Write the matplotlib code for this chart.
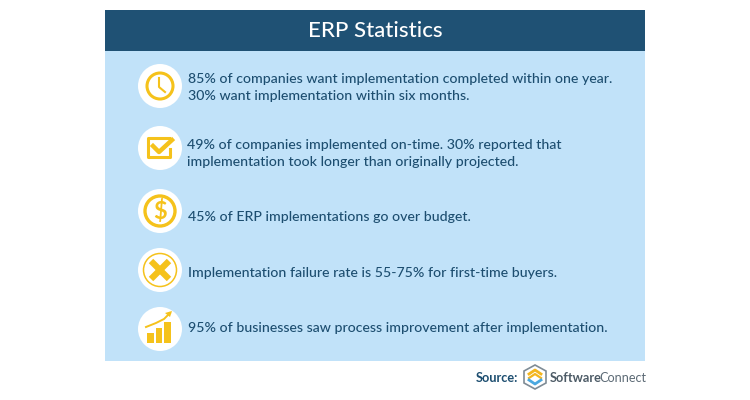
#!/usr/bin/env python3

import matplotlib
matplotlib.use('Agg')
import matplotlib.pyplot as plt
from matplotlib.patches import Circle, Rectangle, Polygon

title = 'ERP Statistics'
stats = [
    '85% of companies want implementation completed within one year.\n30% want implementation within six months.',
    '49% of companies implemented on-time. 30% reported that\nimplementation took longer than originally projected.',
    '45% of ERP implementations go over budget.',
    'Implementation failure rate is 55-75% for first-time buyers.',
    '95% of businesses saw process improvement after implementation.',
]
text_x = [188, 187, 188, 188, 188]
text_y = [87.5, 153.5, 217, 273, 327.5]
icon_y = [86, 148, 211, 270, 329]
bar_heights = [10, 15, 21]

NAVY = '#1f5174'
TEXT = '#1d4e70'
PANEL = '#c1e2f9'
GOLD = '#f5c21b'

plt.rcParams['font.family'] = ['Lato', 'DejaVu Sans']

fig = plt.figure(figsize=(7.5, 4), dpi=100)
ax = fig.add_axes([0, 0, 1, 1])
ax.set_xlim(0, 750)
ax.set_ylim(400, 0)
ax.axis('off')

# header and panel
ax.add_patch(Rectangle((105, 10), 540, 41, color=NAVY, lw=0))
ax.add_patch(Rectangle((105, 51), 540, 310, color=PANEL, lw=0))
ax.text(375, 31, title, color='white', fontsize=16, fontweight='medium', ha='center', va='center')

for s, x, y in zip(stats, text_x, text_y):
    ax.text(x, y, s, color=TEXT, fontsize=10.15, fontweight='medium', va='center', linespacing=1.46)

# white discs behind the icons
cx = 160
for y in icon_y:
    ax.add_patch(Circle((cx, y), 22, color='white', lw=0, zorder=2))

# clock
y = icon_y[0]
ax.add_patch(Circle((cx, y), 13, fill=False, ec=GOLD, lw=2.2, zorder=3))
ax.plot([cx - 1, cx - 1, cx + 5], [y - 8, y + 1, y + 6], color=GOLD, lw=1.5, zorder=3)

# checkbox
y = icon_y[1]
ax.plot([cx + 9, cx - 12, cx - 12, cx + 10, cx + 10], [y - 10, y - 10, y + 9, y + 9, y + 1],
        color=GOLD, lw=2.2, zorder=3)
ax.plot([cx - 7, cx - 1, cx + 12], [y - 2, y + 4, y - 8], color=GOLD, lw=3.2, zorder=4)

# dollar
y = icon_y[2]
ax.add_patch(Circle((cx, y), 15, fill=False, ec=GOLD, lw=2.4, zorder=3))
ax.text(cx, y + 0.5, '$', color=GOLD, fontsize=17, fontweight='bold', ha='center', va='center', zorder=3)

# cross
y = icon_y[3]
ax.add_patch(Circle((cx, y), 16.5, fill=False, ec=GOLD, lw=1.1, zorder=3))
ax.plot([cx - 9, cx + 9], [y - 9, y + 9], color=GOLD, lw=4.5, solid_capstyle='butt', zorder=3)
ax.plot([cx - 9, cx + 9], [y + 9, y - 9], color=GOLD, lw=4.5, solid_capstyle='butt', zorder=3)

# growth bars
y = icon_y[4]
for i, h in enumerate(bar_heights):
    ax.add_patch(Rectangle((cx - 13 + i * 8.5, y + 14 - h), 6.5, h, color=GOLD, lw=0, zorder=3))
ax.plot([cx - 14, cx - 4, cx + 4, cx + 10], [y - 2, y - 6, y - 10, y - 16], color=GOLD, lw=1.4, zorder=3)
ax.add_patch(Polygon([[cx + 12, y - 18], [cx + 5, y - 16], [cx + 10, y - 12]], color=GOLD, lw=0, zorder=3))

# source line and logo
ax.text(518, 378, 'Source:', color=TEXT, fontsize=9.2, fontweight='bold', ha='right', va='center')
ax.add_patch(Polygon([[535, 365], [546, 371], [546, 383], [535, 389], [524, 383], [524, 371]],
                     fc='white', ec='#7f8c96', lw=1.2))
ax.plot([529, 535, 541], [374, 370, 374], color='#f3b61f', lw=2)
ax.plot([529, 535, 541], [378, 374, 378], color='#f3b61f', lw=1.6)
ax.plot([529, 535, 541], [380, 384, 380], color='#4aa8e0', lw=2)
ax.text(550, 378, 'Software', color='#4d5b66', fontsize=9.2, fontweight='bold', va='center')
ax.text(599, 378, 'Connect', color='#5d6b76', fontsize=9.1, va='center')

fig.savefig('out.png', dpi=100)
